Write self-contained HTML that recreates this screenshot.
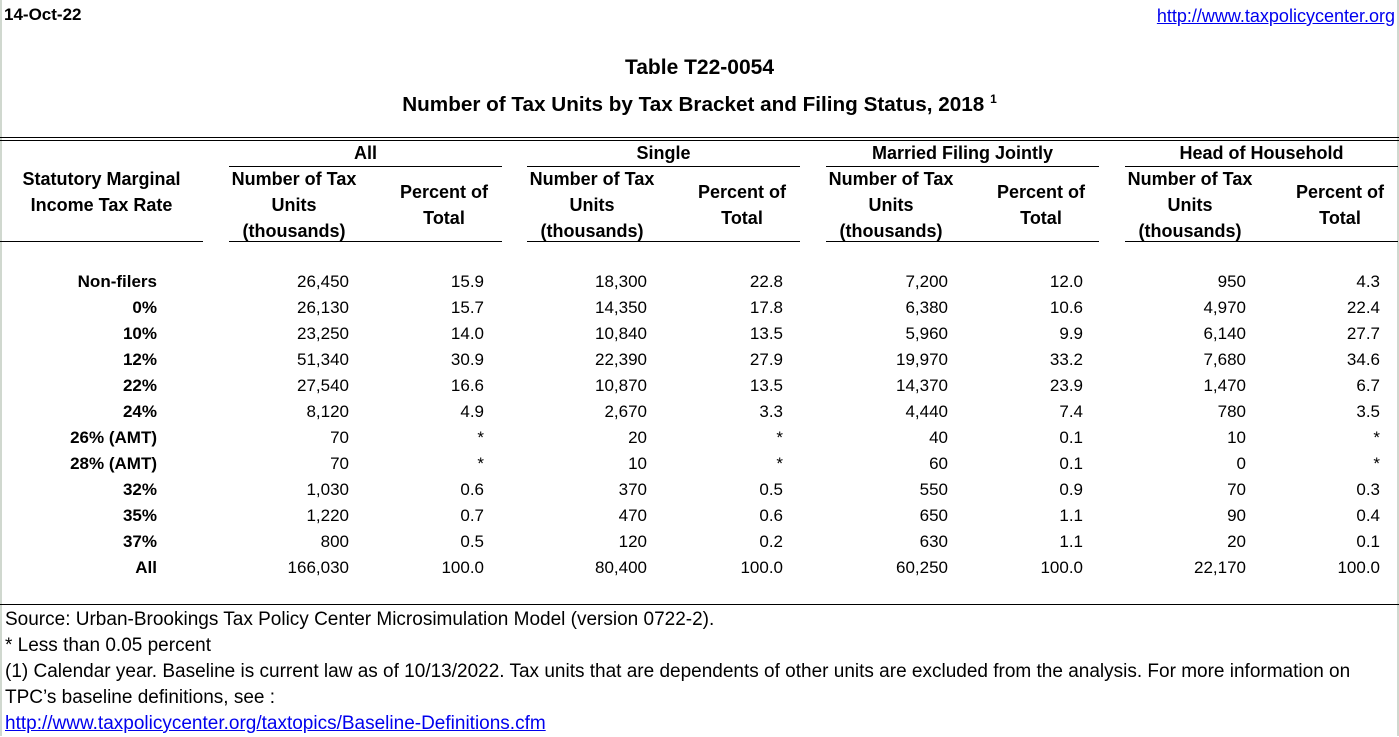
<!DOCTYPE html>
<html><head><meta charset="utf-8"><style>
body{margin:0;width:1399px;height:736px;background:#fff;position:relative;overflow:hidden;font-family:"Liberation Sans",Arial,sans-serif;font-size:17px;color:#000}
.a{position:absolute;white-space:nowrap;line-height:20px}
.b{font-weight:bold}
.r{text-align:right}
.c{text-align:center}
.h{position:absolute;height:1px;background:#000}
a{color:#0000ee;text-decoration:underline}
</style></head><body>
<div style="position:absolute;left:0;top:0;width:2px;height:736px;background:#d0d8cf"></div>
<div style="position:absolute;left:1397px;top:0;width:2px;height:736px;background:#d0d8cf"></div>
<div class="a b" style="left:4px;top:5px">14-Oct-22</div>
<div class="a" style="right:4px;top:6px;font-size:18px"><a>http://www.taxpolicycenter.org</a></div>
<div class="a b c" style="left:0;width:1399px;top:58px;font-size:21px">Table T22-0054</div>
<div class="a b c" style="left:0;width:1399px;top:89px;font-size:20.7px">Number of Tax Units by Tax Bracket and Filing Status, 2018 <sup style="font-size:12px">1</sup></div>
<div class="h" style="left:0;width:1399px;top:137px"></div>
<div class="h" style="left:0;width:1399px;top:140px"></div>
<div class="a b c" style="left:0;width:203px;top:166px;line-height:26px;font-size:18px">Statutory Marginal<br>Income Tax Rate</div>
<div class="h" style="left:0;width:203px;top:241px"></div>
<div id="g"></div>
<script>
var groups=[["All",229],["Single",527],["Married Filing Jointly",826],["Head of Household",1125]];
var h="";
groups.forEach(function(g){var x=g[1];
h+='<div class="a b c" style="left:'+x+'px;width:273px;top:143px;font-size:18px">'+g[0]+'</div>';
h+='<div class="h" style="left:'+x+'px;width:273px;top:166px"></div>';
h+='<div class="h" style="left:'+x+'px;width:273px;top:241px"></div>';
h+='<div class="a b c" style="left:'+(x-2)+'px;width:134px;top:166px;line-height:26px;font-size:18px">Number of Tax<br>Units<br>(thousands)</div>';
h+='<div class="a b c" style="left:'+(x+145)+'px;width:140px;top:179px;line-height:26px;font-size:18px">Percent of<br>Total</div>';
});
var rows=[["Non-filers","26,450","15.9","18,300","22.8","7,200","12.0","950","4.3"],
["0%","26,130","15.7","14,350","17.8","6,380","10.6","4,970","22.4"],
["10%","23,250","14.0","10,840","13.5","5,960","9.9","6,140","27.7"],
["12%","51,340","30.9","22,390","27.9","19,970","33.2","7,680","34.6"],
["22%","27,540","16.6","10,870","13.5","14,370","23.9","1,470","6.7"],
["24%","8,120","4.9","2,670","3.3","4,440","7.4","780","3.5"],
["26% (AMT)","70","*","20","*","40","0.1","10","*"],
["28% (AMT)","70","*","10","*","60","0.1","0","*"],
["32%","1,030","0.6","370","0.5","550","0.9","70","0.3"],
["35%","1,220","0.7","470","0.6","650","1.1","90","0.4"],
["37%","800","0.5","120","0.2","630","1.1","20","0.1"],
["All","166,030","100.0","80,400","100.0","60,250","100.0","22,170","100.0"]];
var xs=[157,349,484,647,783,948,1083,1246,1380];
rows.forEach(function(r,i){var t=272+26*i;
r.forEach(function(v,j){h+='<div class="a r'+(j==0?' b':'')+'" style="left:'+(xs[j]-200)+'px;width:200px;top:'+t+'px">'+v+'</div>';});});
document.getElementById("g").innerHTML=h;
</script>
<div class="h" style="left:0;width:1399px;top:604px"></div>
<div class="a" style="left:5px;top:607px;line-height:26px;font-size:19px">Source: Urban-Brookings Tax Policy Center Microsimulation Model (version 0722-2).<br>* Less than 0.05 percent<br>(1) Calendar year. Baseline is current law as of 10/13/2022. Tax units that are dependents of other units are excluded from the analysis. For more information on<br>TPC’s baseline definitions, see :<br><a>http://www.taxpolicycenter.org/taxtopics/Baseline-Definitions.cfm</a></div>
</body></html>
